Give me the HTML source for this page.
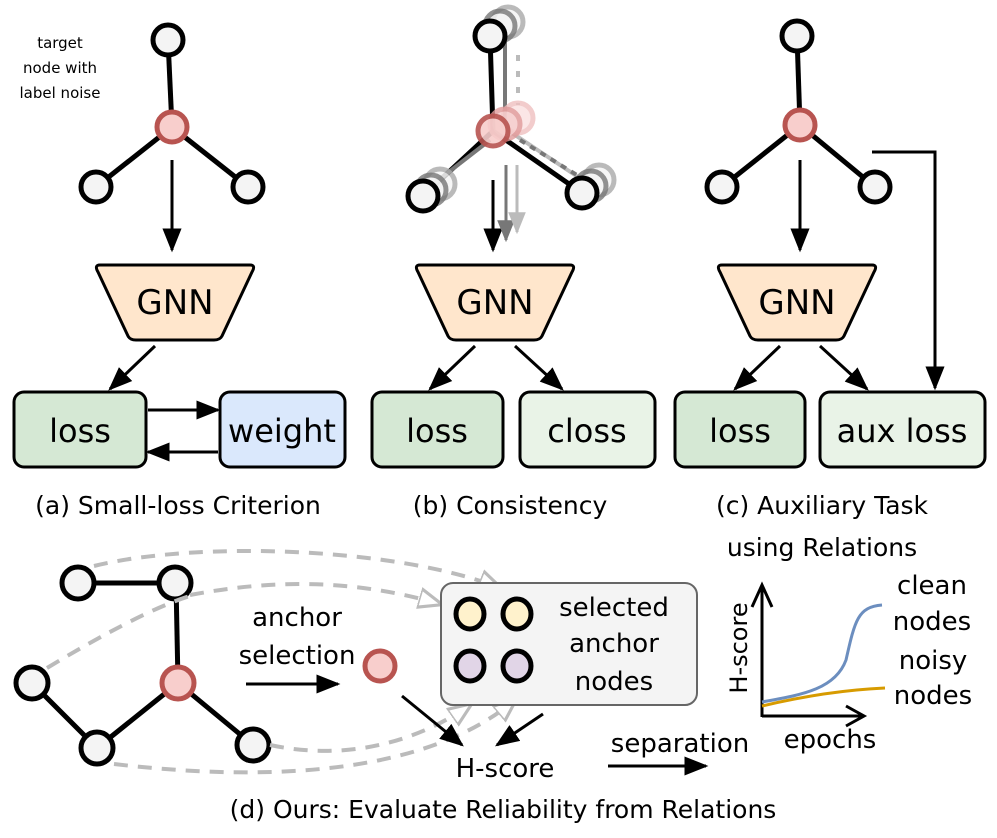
<!DOCTYPE html>
<html><head><meta charset="utf-8"><style>
body{margin:0;background:#fff}
svg text{font-family:"DejaVu Sans","Liberation Sans",sans-serif;fill:#000}
</style></head><body>
<svg width="997" height="833" viewBox="0 0 997 833" xmlns="http://www.w3.org/2000/svg">
<defs>
<marker id="a" viewBox="0 0 10 10" refX="9" refY="5" markerWidth="24" markerHeight="24" markerUnits="userSpaceOnUse" orient="auto"><path d="M0,1 L10,5 L0,9z" fill="#000"/></marker>
<marker id="ag" viewBox="0 0 10 10" refX="9" refY="5" markerWidth="24" markerHeight="24" markerUnits="userSpaceOnUse" orient="auto"><path d="M0,1 L10,5 L0,9z" fill="#fff" stroke="#bbb" stroke-width="1.3"/></marker>
<marker id="gA" viewBox="0 0 10 10" refX="9" refY="5" markerWidth="22" markerHeight="22" markerUnits="userSpaceOnUse" orient="auto"><path d="M0,1 L10,5 L0,9z" fill="#777"/></marker>
<marker id="gB" viewBox="0 0 10 10" refX="9" refY="5" markerWidth="22" markerHeight="22" markerUnits="userSpaceOnUse" orient="auto"><path d="M0,1 L10,5 L0,9z" fill="#bbb"/></marker>
</defs>
<g stroke="#000" stroke-width="5" fill="none">
<line x1="168" y1="40" x2="172" y2="127"/><line x1="172" y1="127" x2="96" y2="187"/><line x1="172" y1="127" x2="248" y2="187"/>
<line x1="490" y1="36" x2="493" y2="131"/><line x1="493" y1="131" x2="423" y2="196"/><line x1="493" y1="131" x2="582" y2="193"/>
<line x1="797" y1="36" x2="800" y2="125"/><line x1="800" y1="125" x2="722" y2="187"/><line x1="800" y1="125" x2="875" y2="187"/>
<line x1="78" y1="583" x2="175" y2="583"/><line x1="176" y1="583" x2="178" y2="683"/><line x1="32" y1="683" x2="97" y2="748"/><line x1="97" y1="748" x2="178" y2="683"/><line x1="178" y1="683" x2="253" y2="745"/>
</g>
<g fill="none" stroke-width="4">
<line x1="505" y1="30" x2="505" y2="120" stroke="#777"/>
<line x1="518" y1="55" x2="518" y2="105" stroke="#bbb" stroke-dasharray="6 10"/>
<line x1="500" y1="125" x2="590" y2="185" stroke="#bbb"/>
<line x1="520" y1="140" x2="585" y2="180" stroke="#777" stroke-dasharray="6 6"/>
<line x1="432" y1="185" x2="490" y2="140" stroke="#777"/>
</g>
<g stroke-width="5" fill="#f4f4f4">
<circle cx="508" cy="22" r="15" stroke="#aaa" opacity=".8"/><circle cx="500" cy="26" r="15" stroke="#777" opacity=".8"/>
<circle cx="440" cy="184" r="15" stroke="#aaa" opacity=".8"/><circle cx="431" cy="190" r="15" stroke="#777" opacity=".8"/>
<circle cx="599" cy="180" r="15" stroke="#aaa" opacity=".8"/><circle cx="591" cy="186" r="15" stroke="#777" opacity=".8"/>
<circle cx="518" cy="118" r="15" stroke="#f0c0c0" fill="#fbe0e0" opacity=".8"/><circle cx="505" cy="124" r="15" stroke="#e09a9a" fill="#f6cccc" opacity=".8"/>
</g>
<g stroke="#000" stroke-width="5" fill="#f4f4f4">
<circle cx="168" cy="40" r="15"/><circle cx="96" cy="187" r="15"/><circle cx="248" cy="187" r="15"/>
<circle cx="490" cy="36" r="15"/><circle cx="423" cy="196" r="15"/><circle cx="582" cy="193" r="15"/>
<circle cx="797" cy="36" r="15"/><circle cx="722" cy="187" r="15"/><circle cx="875" cy="187" r="15"/>
<circle cx="78" cy="583" r="16"/><circle cx="175" cy="583" r="16"/><circle cx="32" cy="683" r="16"/><circle cx="97" cy="748" r="16"/><circle cx="253" cy="745" r="16"/>
</g>
<g stroke="#b85450" stroke-width="5" fill="#f8cecc">
<circle cx="172" cy="127" r="15"/><circle cx="493" cy="131" r="15" opacity=".9"/><circle cx="800" cy="125" r="15"/><circle cx="178" cy="683" r="16"/><circle cx="380" cy="666" r="15"/>
</g>
<text x="60" y="48" font-size="15" text-anchor="middle">target</text>
<text x="60" y="73" font-size="15" text-anchor="middle">node with</text>
<text x="60" y="98" font-size="15" text-anchor="middle">label noise</text>
<g stroke="#000" stroke-width="3">
<line x1="172" y1="160" x2="172" y2="250" marker-end="url(#a)"/>
<line x1="493" y1="180" x2="493" y2="250" marker-end="url(#a)"/>
<line x1="800" y1="160" x2="800" y2="250" marker-end="url(#a)"/>
</g>
<line x1="506" y1="165" x2="506" y2="240" stroke="#777" stroke-width="3" marker-end="url(#gA)"/>
<line x1="517" y1="165" x2="517" y2="232" stroke="#bbb" stroke-width="3" marker-end="url(#gB)"/>
<g fill="#ffe6cc" stroke="#000" stroke-width="3" stroke-linejoin="round">
<path d="M100,265 L250,265 Q256,265 252,272 L222,336 Q220,340 214,340 L136,340 Q130,340 128,336 L98,272 Q94,265 100,265Z"/>
<path d="M420,265 L570,265 Q576,265 572,272 L542,336 Q540,340 534,340 L456,340 Q450,340 448,336 L418,272 Q414,265 420,265Z"/>
<path d="M722,265 L872,265 Q878,265 874,272 L844,336 Q842,340 836,340 L758,340 Q752,340 750,336 L720,272 Q716,265 722,265Z"/>
</g>
<g font-size="34" text-anchor="middle"><text x="175" y="314">GNN</text><text x="495" y="314">GNN</text><text x="797" y="314">GNN</text></g>
<g stroke="#000" stroke-width="3">
<rect x="14" y="392" width="132" height="75" rx="10" fill="#d5e8d4"/>
<rect x="220" y="392" width="125" height="75" rx="10" fill="#dae8fc"/>
<rect x="372" y="392" width="131" height="75" rx="10" fill="#d5e8d4"/>
<rect x="520" y="392" width="135" height="75" rx="10" fill="#e9f3e7"/>
<rect x="675" y="392" width="130" height="75" rx="10" fill="#d5e8d4"/>
<rect x="820" y="392" width="165" height="75" rx="10" fill="#e9f3e7"/>
</g>
<g font-size="32" text-anchor="middle">
<text x="80" y="442">loss</text><text x="282" y="442">weight</text>
<text x="437" y="442">loss</text><text x="587" y="442">closs</text>
<text x="740" y="442">loss</text><text x="902" y="442">aux loss</text>
</g>
<g stroke="#000" stroke-width="3">
<line x1="155" y1="346" x2="110" y2="389" marker-end="url(#a)"/>
<line x1="148" y1="410" x2="218" y2="410" marker-end="url(#a)"/>
<line x1="218" y1="452" x2="148" y2="452" marker-end="url(#a)"/>
<line x1="475" y1="346" x2="430" y2="389" marker-end="url(#a)"/>
<line x1="515" y1="346" x2="562" y2="389" marker-end="url(#a)"/>
<line x1="780" y1="346" x2="735" y2="389" marker-end="url(#a)"/>
<line x1="820" y1="346" x2="867" y2="389" marker-end="url(#a)"/>
<polyline points="872,152 935,152 935,388" fill="none" marker-end="url(#a)"/>
</g>
<g font-size="25" text-anchor="middle">
<text x="178" y="514">(a) Small-loss Criterion</text>
<text x="510" y="514">(b) Consistency</text>
<text x="822" y="514">(c) Auxiliary Task</text>
<text x="822" y="556">using Relations</text>
<text x="503" y="818">(d) Ours: Evaluate Reliability from Relations</text>
</g>
<g fill="none" stroke="#bbb" stroke-width="4" stroke-dasharray="14 10">
<path d="M94,566 C200,540 400,548 500,588" marker-end="url(#ag)"/>
<path d="M190,595 C270,580 350,578 440,604" marker-end="url(#ag)"/>
<path d="M47,668 C110,630 160,605 190,596"/>
<path d="M270,745 C350,762 420,740 470,705" marker-end="url(#ag)"/>
<path d="M114,764 C250,780 420,780 515,700" marker-end="url(#ag)"/>
</g>
<rect x="441" y="583" width="256" height="122" rx="12" fill="#f4f4f4" stroke="#666" stroke-width="2"/>
<g stroke="#000" stroke-width="5">
<ellipse cx="470" cy="614" rx="14" ry="15" fill="#fff2cc"/><ellipse cx="517" cy="614" rx="14" ry="15" fill="#fff2cc"/>
<ellipse cx="470" cy="666" rx="14" ry="15" fill="#e1d5e7"/><ellipse cx="517" cy="666" rx="14" ry="15" fill="#e1d5e7"/>
</g>
<g font-size="26" text-anchor="middle">
<text x="614" y="616">selected</text><text x="614" y="652">anchor</text><text x="614" y="690">nodes</text>
<text x="297" y="626">anchor</text><text x="297" y="664">selection</text>
<text x="505" y="777">H-score</text>
<text x="680" y="752">separation</text>
<text x="830" y="748">epochs</text>
<text x="932" y="594">clean</text><text x="932" y="630">nodes</text><text x="933" y="669">noisy</text><text x="933" y="704">nodes</text>
<text transform="translate(747,648) rotate(-90)" font-size="24">H-score</text>
</g>
<g stroke="#000" stroke-width="3">
<line x1="246" y1="684" x2="338" y2="684" marker-end="url(#a)"/>
<line x1="402" y1="696" x2="462" y2="745" marker-end="url(#a)"/>
<line x1="543" y1="714" x2="497" y2="745" marker-end="url(#a)"/>
<line x1="608" y1="766" x2="706" y2="766" marker-end="url(#a)"/>
</g>
<g fill="none" stroke="#000" stroke-width="3">
<line x1="762" y1="717" x2="762" y2="585"/><polyline points="752,607 762,585 772,607"/>
<line x1="762" y1="716" x2="862" y2="716"/><polyline points="846,706 864,716 846,726"/>
</g>
<path d="M762,702 C800,695 835,690 846,660 C855,620 858,607 882,605" fill="none" stroke="#6c8ebf" stroke-width="3"/>
<path d="M762,706 C800,697 840,690 885,688" fill="none" stroke="#d79b00" stroke-width="3"/>
</svg>
</body></html>
